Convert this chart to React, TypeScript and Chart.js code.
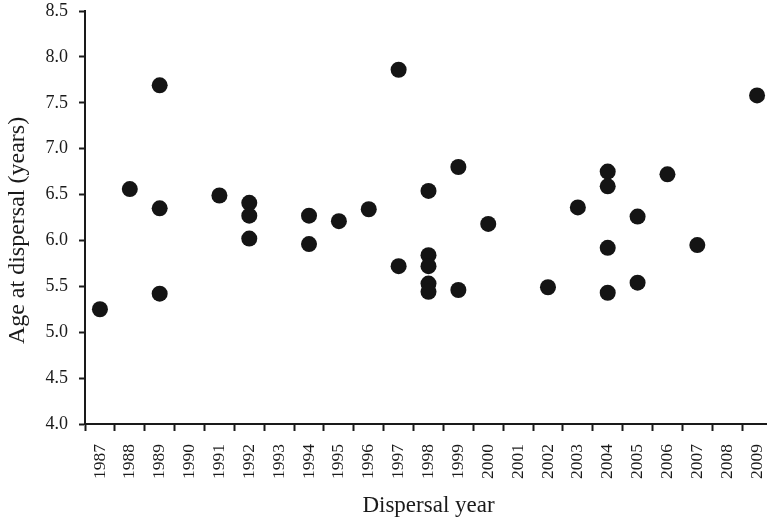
import React, { useEffect, useRef } from "react";
import { Chart, registerables } from "chart.js";

Chart.register(...registerables);

const yearLabels: string[] = [
  "1987", "1988", "1989", "1990", "1991", "1992", "1993", "1994", "1995", "1996",
  "1997", "1998", "1999", "2000", "2001", "2002", "2003", "2004", "2005", "2006",
  "2007", "2008", "2009",
];

const pointYears: string[] = [
  "1987", "1988", "1989", "1989", "1989", "1991", "1992", "1992", "1992",
  "1994", "1994", "1995", "1996", "1997", "1997",
  "1998", "1998", "1998", "1998", "1998", "1999", "1999", "2000",
  "2002", "2003", "2004", "2004", "2004", "2004", "2005", "2005", "2006", "2007", "2009",
];

const pointAges: number[] = [
  5.25, 6.56, 7.69, 6.35, 5.42, 6.49, 6.41, 6.27, 6.02,
  6.27, 5.96, 6.21, 6.34, 7.86, 5.72,
  6.54, 5.84, 5.72, 5.53, 5.44, 6.80, 5.46, 6.18,
  5.49, 6.36, 6.75, 6.59, 5.92, 5.43, 6.26, 5.54, 6.72, 5.95, 7.58,
];

const yTicks: number[] = [4.0, 4.5, 5.0, 5.5, 6.0, 6.5, 7.0, 7.5, 8.0, 8.5];

const yTitle = "Age at dispersal (years)";
const xTitle = "Dispersal year";

const FONT = "'Liberation Serif', 'DejaVu Serif', serif";
const INK = "#1a1a1a";

const zeroPad = (s: any) => {
  s.paddingTop = 0;
  s.paddingBottom = 0;
  s.paddingLeft = 0;
  s.paddingRight = 0;
};

// Draws the y-axis title slightly below the axis centre, as in the source figure.
const yTitlePlugin = {
  id: "yTitleShifted",
  afterDraw(chart: any) {
    const { ctx, chartArea } = chart;
    ctx.save();
    ctx.font = `24px ${FONT}`;
    ctx.fillStyle = INK;
    ctx.textAlign = "center";
    ctx.textBaseline = "middle";
    ctx.translate(18, (chartArea.top + chartArea.bottom) / 2 + 13);
    ctx.rotate(-Math.PI / 2);
    ctx.fillText(yTitle, 0, 0);
    ctx.restore();
  },
};

export default function App() {
  const ref = useRef<HTMLCanvasElement | null>(null);

  useEffect(() => {
    if (!ref.current) return;
    const points = pointYears.map((yr, i) => ({ x: yr, y: pointAges[i] }));
    const chart = new Chart(ref.current, {
      type: "scatter",
      data: {
        labels: yearLabels,
        datasets: [
          {
            data: points as any,
            backgroundColor: "#141414",
            borderColor: "#141414",
            borderWidth: 0,
            pointRadius: 8,
            pointHoverRadius: 8,
          },
        ],
      },
      plugins: [yTitlePlugin],
      options: {
        animation: false,
        responsive: false,
        devicePixelRatio: 1,
        layout: { padding: { left: 0, right: 2, top: 11, bottom: 0 } },
        plugins: { legend: { display: false }, tooltip: { enabled: false } },
        scales: {
          x: {
            type: "category",
            labels: yearLabels,
            offset: true,
            afterFit: (s: any) => {
              s.height = 93;
              zeroPad(s);
            },
            grid: {
              offset: true,
              drawOnChartArea: false,
              drawTicks: true,
              tickLength: 7,
              tickColor: INK,
              tickWidth: 2,
            },
            border: { display: true, color: INK, width: 2 },
            ticks: {
              autoSkip: false,
              minRotation: 90,
              maxRotation: 90,
              padding: 13,
              color: INK,
              font: { family: FONT, size: 17.5 },
            },
            title: {
              display: true,
              text: xTitle,
              color: INK,
              font: { family: FONT, size: 23 },
              padding: { top: 0, bottom: -3 },
            },
          },
          y: {
            type: "linear",
            min: 4.0,
            max: 8.5,
            afterFit: (s: any) => {
              s.width = 85;
              zeroPad(s);
            },
            afterBuildTicks: (s: any) => {
              s.ticks = yTicks.map((v) => ({ value: v }));
            },
            grid: {
              drawOnChartArea: false,
              drawTicks: true,
              tickLength: 6,
              tickColor: INK,
              tickWidth: 2,
            },
            border: { display: true, color: INK, width: 2 },
            ticks: {
              padding: 11,
              color: INK,
              font: { family: FONT, size: 18 },
              callback: (v: any) => Number(v).toFixed(1),
            },
            title: { display: false },
          },
        },
      },
    });
    return () => chart.destroy();
  }, []);

  return (
    <div
      style={{
        position: "fixed",
        left: 0,
        top: 0,
        width: 767,
        height: 517,
        overflow: "hidden",
        background: "#fff",
      }}
    >
      <canvas ref={ref} width={780} height={517} style={{ display: "block" }} />
    </div>
  );
}
